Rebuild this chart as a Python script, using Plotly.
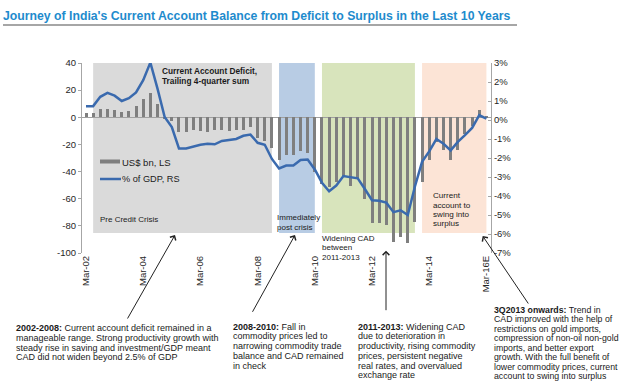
import plotly.graph_objects as go

# ---------------- data ----------------
quarters = []
for yr in range(2, 17):
    for m in ["Mar", "Jun", "Sep", "Dec"]:
        quarters.append(f"{m}-{yr:02d}")
quarters = quarters[:57]
quarters[-1] = "Mar-16E"

cad_usd_bn = [3, 3, 6, 6, 5.5, 4, 5, 8.5, 13.5, 17.7,
              10, -1, -2.5, -10.6, -10.6, -9.5, -10, -10.6, -9, -9.3,
              -10, -9.3, -9, -7.5, -15, -17.5, -22.8, -31.4, -27.5, -28,
              -25, -26.5, -40, -49, -51.5, -48, -43.7, -50.5, -45.5, -60,
              -78, -78, -79.4, -91.6, -88.3, -92.6, -77, -48, -31.4, -18.5,
              -24, -31.4, -24, -12.5, -6.5, 5.4, 1]

cad_pct_gdp = [0.73, 0.73, 1.22, 1.43, 1.28, 1.0, 1.15, 1.45, 2.1, 3.02,
               1.65, 0.16, -0.37, -1.5, -1.5, -1.38, -1.3, -1.25, -1.28, -1.1,
               -1.06, -1.0, -0.83, -0.77, -1.2, -1.3, -2.05, -2.55, -2.4, -2.4,
               -2.1, -2.08, -2.6, -3.3, -3.75, -3.45, -2.95, -3.01, -3.07, -3.63,
               -4.22, -4.25, -4.35, -4.85, -4.75, -5.0, -3.5, -2.2, -1.65, -1.0,
               -1.25, -1.6, -1.15, -0.8, -0.42, 0.25, 0.07]

x_tick_labels = ["Mar-02", "Mar-04", "Mar-06", "Mar-08", "Mar-10", "Mar-12", "Mar-14", "Mar-16E"]
left_ticks = [40, 20, 0, -20, -40, -60, -80, -100]
right_ticks = [3, 2, 1, 0, -1, -2, -3, -4, -5, -6, -7]

region_start = ["Jun-02", "Dec-08", "Jun-10", "Dec-13"]
region_end = ["Sep-08", "Mar-10", "Sep-13", "Mar-16E"]
region_colors = ["#DADADA", "#B8CCE4", "#D8E4BC", "#FCE4D6"]
region_bottom = -85.3

# ---------------- layout geometry ----------------
W, H = 620, 387
ML, MR, MT, MB = 82, 129, 63, 134
PW, PH = W - ML - MR, H - MT - MB


def px(x):
    return (x - ML) / PW


def py(y):
    return 1 - (y - MT) / PH


ARIAL = "Liberation Sans, Arial, sans-serif"
BLUE = "#3A6AAE"
GRAY_BAR = "#7F7F7F"
TXT = "#1A1A1A"

fig = go.Figure()
fig.add_trace(go.Bar(x=quarters, y=cad_usd_bn, name="US$ bn, LS",
                     marker=dict(color=GRAY_BAR, line=dict(width=0)), width=0.42,
                     yaxis="y"))
fig.add_trace(go.Scatter(x=quarters, y=cad_pct_gdp, name="% of GDP, RS", mode="lines",
                         line=dict(color=BLUE, width=2.5), yaxis="y2"))

shapes = []
for s, e, c in zip(region_start, region_end, region_colors):
    shapes.append(dict(type="rect", xref="x", yref="y", x0=quarters.index(s), x1=quarters.index(e),
                       y0=region_bottom, y1=40, fillcolor=c, line=dict(width=0), layer="below"))
# title underline
shapes.append(dict(type="line", xref="paper", yref="paper", x0=px(3), x1=px(517), y0=py(25), y1=py(25),
                   line=dict(color="#A6A6A6", width=2)))
# manual legend symbols
shapes.append(dict(type="rect", xref="paper", yref="paper", x0=px(100), x1=px(120), y0=py(163.5), y1=py(159.5),
                   fillcolor=GRAY_BAR, line=dict(width=0)))
shapes.append(dict(type="line", xref="paper", yref="paper", x0=px(100), x1=px(121), y0=py(179), y1=py(179),
                   line=dict(color=BLUE, width=2.5)))

annotations = []


def text(x, y, t, size, color=TXT, bold=False):
    if bold:
        t = f"<b>{t}</b>"
    annotations.append(dict(xref="paper", yref="paper", x=px(x - 2), y=py(y), text=t, showarrow=False,
                            xanchor="left", yanchor="middle", font=dict(size=size, family=ARIAL, color=color)))


def block(x, y0, dy, lines, size, bold=False):
    for k, ln in enumerate(lines):
        text(x, y0 + k * dy, ln, size, bold=bold)


# title
text(3, 16, "Journey of India's Current Account Balance from Deficit to Surplus in the Last 10 Years",
     12.25, color="#1E8BCD", bold=True)

block(161.7, 70.7, 10, ["Current Account Deficit,", "Trailing 4-quarter sum"], 8.3, bold=True)
text(122, 162, "US$ bn, LS", 9.5)
text(122, 179, "% of GDP, RS", 9.2)
text(100, 219, "Pre Credit Crisis", 8)
block(276.7, 217.7, 10, ["Immediately", "post crisis"], 8)
block(321.7, 238.3, 9.5, ["Widening CAD", "between", "2011-2013"], 8)
block(433.3, 195.7, 9.35, ["Current", "account to", "swing into", "surplus"], 8.1)

block(16, 328.3, 9.6, ["<b>2002-2008:</b> Current account deficit remained in a",
                       "manageable range. Strong productivity growth with",
                       "steady rise in saving and investment/GDP meant",
                       "CAD did not widen beyond 2.5% of GDP"], 9)
block(233.3, 326.7, 9.7, ["<b>2008-2010:</b> Fall in",
                          "commodity prices led to",
                          "narrowing commodity trade",
                          "balance and CAD remained",
                          "in check"], 9)
block(358.3, 326.7, 9.7, ["<b>2011-2013:</b> Widening CAD",
                          "due to deterioration in",
                          "productivity, rising commodity",
                          "prices, persistent negative",
                          "real rates, and overvalued",
                          "exchange rate"], 9)
block(494, 310, 9.43, ["<b>3Q2013 onwards:</b> Trend in",
                       "CAD improved with the help of",
                       "restrictions on gold imports,",
                       "compression of non-oil non-gold",
                       "imports, and better export",
                       "growth. With the full benefit of",
                       "lower commodity prices, current",
                       "account to swing into surplus"], 8.75)

for hx, hy, tx, ty in [(175, 235, 126.7, 320), (295, 235, 251.7, 313.3),
                       (386, 250.7, 386, 311.7), (482.7, 236, 529.3, 305)]:
    annotations.append(dict(xref="paper", yref="paper", x=px(hx), y=py(hy), text="", showarrow=True,
                            ax=tx - hx, ay=ty - hy, arrowhead=4, arrowsize=1.3, arrowwidth=1,
                            arrowcolor="#222222", standoff=0, startstandoff=0))

fig.update_layout(
    width=W, height=H,
    margin=dict(l=ML, r=MR, t=MT, b=MB, pad=0),
    paper_bgcolor="white", plot_bgcolor="white",
    showlegend=False,
    bargap=0,
    shapes=shapes, annotations=annotations,
    xaxis=dict(type="category", categoryorder="array", categoryarray=quarters,
               range=[-0.56, 56.64], tickmode="array", tickvals=x_tick_labels, ticktext=x_tick_labels,
               tickangle=-90, showline=False, showgrid=False, zeroline=False, ticks="",
               tickfont=dict(family=ARIAL, size=9.5, color="#262626")),
    yaxis=dict(range=[-100, 40], tickmode="array", tickvals=left_ticks, ticktext=[str(v) for v in left_ticks],
               showgrid=False, zeroline=True, zerolinecolor="#A0A0A0", zerolinewidth=1,
               showline=True, linecolor="#A6A6A6", linewidth=1, ticks="outside", ticklen=3, tickcolor="#A6A6A6",
               tickfont=dict(family=ARIAL, size=9.5, color="#262626")),
    yaxis2=dict(range=[-7, 3], overlaying="y", side="right", tickmode="array", tickvals=right_ticks,
                ticktext=[f"{v}%" for v in right_ticks], showgrid=False, zeroline=False,
                showline=True, linecolor="#A6A6A6", linewidth=1, ticks="inside", ticklen=3, tickcolor="#A6A6A6",
                tickfont=dict(family=ARIAL, size=9.5, color="#262626")),
)

fig.write_html("out.html", config={"displayModeBar": False},
               post_script="document.body.style.margin='0';document.body.style.overflow='hidden';")
